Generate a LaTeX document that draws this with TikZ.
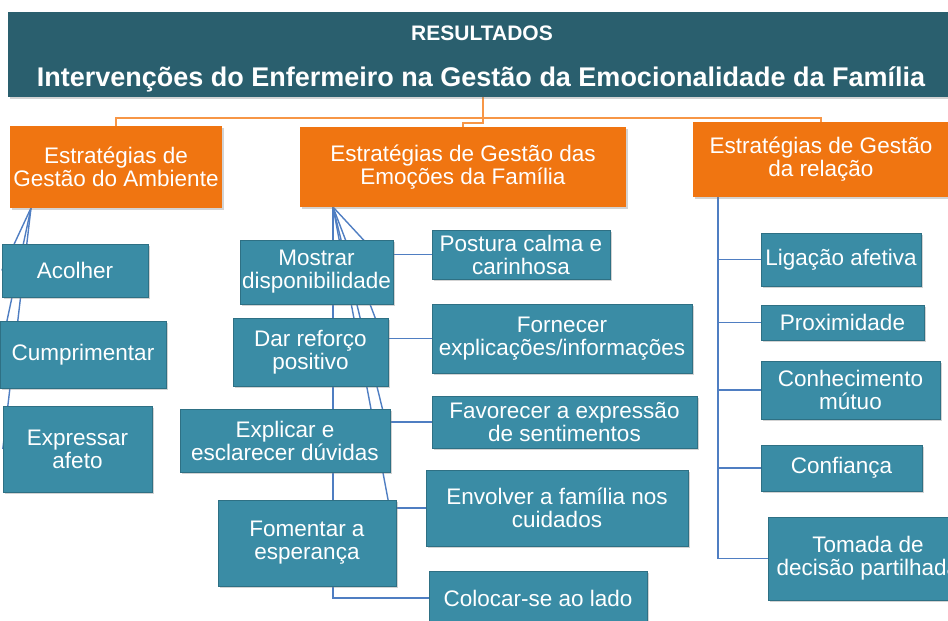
\documentclass[tikz,border=0pt]{standalone}
\usepackage{fontspec}
\setmainfont{Liberation Sans}
\usetikzlibrary{shadows,backgrounds}

\definecolor{topteal}{HTML}{2A5F6E}
\definecolor{boxteal}{HTML}{3A8CA5}
\definecolor{boxorange}{HTML}{F07511}
\definecolor{lineorange}{HTML}{F79646}
\definecolor{lineblue}{HTML}{4F7EC2}

\begin{document}
\begin{tikzpicture}[x=1pt,y=-1pt,
  every node/.style={inner sep=0pt, align=center, text=white,
    font=\fontsize{22.5}{23}\selectfont},
  rootbox/.style={fill=topteal, minimum width=945pt, minimum height=85pt,
    drop shadow={shadow xshift=2pt, shadow yshift=-2pt, opacity=.35}},
  headbox/.style={fill=boxorange, minimum height=80pt,
    drop shadow={shadow xshift=2pt, shadow yshift=-2pt, opacity=.35}},
  itembox/.style={fill=boxteal, draw=boxteal!80!black, line width=.4pt,
    drop shadow={shadow xshift=2pt, shadow yshift=-2pt, opacity=.35}},
  orgline/.style={draw=lineorange, line width=1.5pt},
  subline/.style={draw=lineblue, line width=1.4pt}]
\useasboundingbox (0,0) rectangle (948,621);

% topo
\node[rootbox] (top) at (480,54.5) {};
\node[font=\fontsize{21}{22}\selectfont\bfseries] (res) at (482,33) {RESULTADOS};
\node[font=\fontsize{27}{28}\selectfont\bfseries] (tit) at (481,79)
  {Intervenções do Enfermeiro na Gestão da Emocionalidade da Família};

% estrategias
\node[headbox, minimum width=212pt, minimum height=82pt] (amb) at (116,167)
  {Estratégias de\\Gestão do Ambiente};
\node[headbox, minimum width=326pt] (emo) at (463,167)
  {Estratégias de Gestão das\\Emoções da Família};
\node[headbox, minimum width=256pt, minimum height=75pt] (rel) at (821,159.5)
  {Estratégias de Gestão\\da relação};

% ambiente
\node[itembox, minimum width=146pt, minimum height=53pt] (acolher) at (75,270.5) {Acolher};
\node[itembox, minimum width=166pt, minimum height=67pt] (cumpr) at (83,354.5) {Cumprimentar};
\node[itembox, minimum width=149pt, minimum height=86pt] (afeto) at (77.5,449) {Expressar\\afeto};

% emocoes
\node[itembox, minimum width=153pt, minimum height=64pt] (mostrar) at (316.5,272) {Mostrar\\disponibilidade};
\node[itembox, minimum width=155pt, minimum height=68pt] (reforco) at (310.5,352) {Dar reforço\\positivo};
\node[itembox, minimum width=210pt, minimum height=63pt] (explicar) at (285,440.5) {Explicar e\\esclarecer dúvidas};
\node[itembox, minimum width=178pt, minimum height=86pt] (esperanca) at (307,543) {Fomentar a\\esperança};
\node[itembox, minimum width=178pt, minimum height=49pt] (postura) at (521,254.5) {Postura calma e\\carinhosa};
\node[itembox, minimum width=260pt, minimum height=69pt] (fornecer) at (562,338.5) {Fornecer\\explicações/informações};
\node[itembox, minimum width=265pt, minimum height=52pt] (favorecer) at (564.5,422) {Favorecer a expressão\\de sentimentos};
\node[itembox, minimum width=262pt, minimum height=76pt] (envolver) at (557,508) {Envolver a família nos\\cuidados};
\node[itembox, minimum width=218pt, minimum height=54pt] (colocar) at (538,598) {Colocar-se ao lado};

% relacao
\node[itembox, minimum width=160pt, minimum height=53pt] (ligacao) at (841,259.5) {Ligação afetiva};
\node[itembox, minimum width=163pt, minimum height=35pt] (proxim) at (842.5,322.5) {Proximidade};
\node[itembox, minimum width=179pt, minimum height=58pt] (conhec) at (850.5,390) {Conhecimento\\mútuo};
\node[itembox, minimum width=161pt, minimum height=46pt] (confianca) at (841.5,468) {Confiança};
\node[itembox, minimum width=200pt, minimum height=83pt] (tomada) at (868,558.5) {Tomada de\\decisão partilhada};

\coordinate (topfoot) at (483,97);
\coordinate (bar) at (483,118);
\coordinate (ambfoot) at (31,208);
\coordinate (emofoot) at (333,207);
\coordinate (relfoot) at (718,197);

\begin{pgfonlayer}{background}
% ligacoes do topo
\draw[orgline] (topfoot) -- (bar) -| (amb.north);
\draw[orgline] (bar) -| (rel.north);
\draw[orgline] (bar) -- ++(0,5) -| (emo.north);
% ambiente
\foreach \n in {acolher,cumpr,afeto}
  \draw[subline] (ambfoot) -- (\n.west);
% emocoes
\foreach \n in {mostrar,reforco,explicar,esperanca}
  \draw[subline] (emofoot) -- (\n.east);
\foreach \n in {postura,fornecer,favorecer,envolver,colocar}
  \draw[subline] (emofoot) |- (\n.west);
% relacao
\foreach \n in {ligacao,proxim,conhec,confianca,tomada}
  \draw[subline] (relfoot) |- (\n.west);
\end{pgfonlayer}
\end{tikzpicture}
\end{document}
